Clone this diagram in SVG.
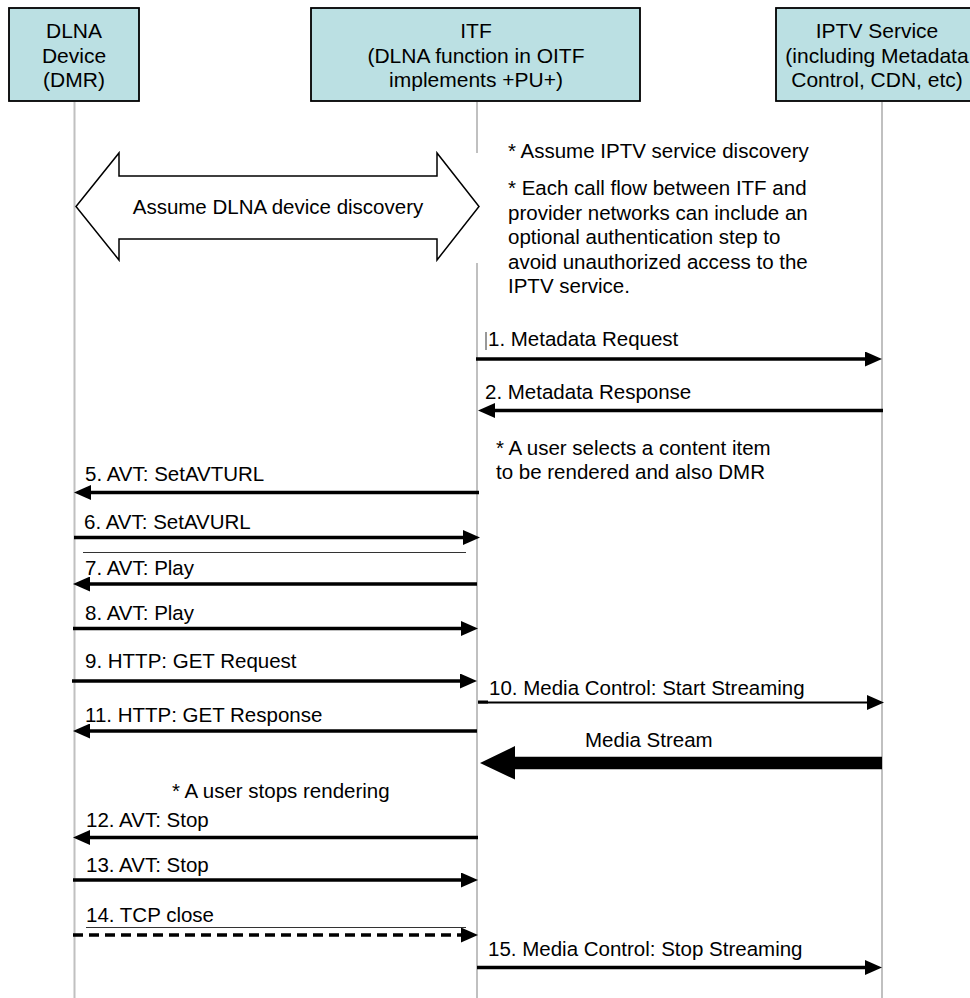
<svg xmlns="http://www.w3.org/2000/svg" width="970" height="998" viewBox="0 0 970 998">
<defs>
<style>
 .t{font-family:"Liberation Sans",Arial,sans-serif;font-size:20.5px;fill:#000}
 .h{font-family:"Liberation Sans",Arial,sans-serif;font-size:21px;fill:#000;text-anchor:middle}
 .box{fill:#BBE0E3;stroke:#000;stroke-width:1.8}
 .life{stroke:#C0C0C0;stroke-width:2;fill:none}
 .msg{stroke:#000;stroke-width:3.5;fill:none;marker-end:url(#ah)}
 .thin{stroke:#000;stroke-width:2;fill:none;marker-end:url(#ah)}
 .dash{stroke-dasharray:10 6}
 .sep{stroke:#333;stroke-width:1;fill:none}
</style>
<marker id="ah" markerUnits="userSpaceOnUse" markerWidth="17" markerHeight="15" refX="9" refY="7.5" orient="auto" viewBox="0 0 17 15"><path d="M0,0 L17,7.5 L0,15 z" fill="#000"/></marker>
</defs>
<rect width="970" height="998" fill="#fff"/>

<g id="lifelines">
 <line class="life" x1="74.5" y1="102" x2="74.5" y2="998"/>
 <line class="life" x1="477" y1="102" x2="477" y2="153"/>
 <line class="life" x1="477" y1="263" x2="477" y2="998"/>
 <line class="life" x1="882" y1="102" x2="882" y2="998"/>
</g>

<g id="dlna">
 <rect class="box" x="9" y="8" width="130" height="93"/>
 <text class="h" x="74" y="38">DLNA</text>
 <text class="h" x="74" y="62.5">Device</text>
 <text class="h" x="74" y="87">(DMR)</text>
</g>
<g id="itf">
 <rect class="box" x="311" y="8" width="329" height="93"/>
 <text class="h" x="476" y="38">ITF</text>
 <text class="h" x="476" y="62.5">(DLNA function in OITF</text>
 <text class="h" x="476" y="87">implements +PU+)</text>
</g>
<g id="iptv">
 <rect class="box" x="776" y="8" width="210" height="93"/>
 <text class="h" x="877" y="38">IPTV Service</text>
 <text class="h" x="877" y="62.5">(including Metadata</text>
 <text class="h" x="877" y="87">Control, CDN, etc)</text>
</g>

<g id="discovery">
 <polygon points="76,206.5 119,153 119,176 437,176 437,153 479,206.5 437,260 437,239 119,239 119,260" fill="#fff" stroke="#000" stroke-width="1.5"/>
 <text class="t" x="278" y="214" text-anchor="middle">Assume DLNA device discovery</text>
</g>

<g id="notes">
 <text class="t" x="508" y="158">* Assume IPTV service discovery</text>
 <text class="t" x="508" y="195">* Each call flow between ITF and</text>
 <text class="t" x="508" y="219.5">provider networks can include an</text>
 <text class="t" x="508" y="244">optional authentication step to</text>
 <text class="t" x="508" y="268.5">avoid unauthorized access to the</text>
 <text class="t" x="508" y="293">IPTV service.</text>
 <text class="t" x="496" y="454.5">* A user selects a content item</text>
 <text class="t" x="496" y="479">to be rendered and also DMR</text>
 <text class="t" x="172" y="797.5">* A user stops rendering</text>
</g>

<g id="connectors">
 <line class="sep" x1="486" y1="332" x2="486" y2="350"/>
 <line class="msg" x1="476" y1="359" x2="874" y2="359"/>
 <text class="t" x="488" y="346">1. Metadata Request</text>

 <line class="msg" x1="883" y1="410.5" x2="486" y2="410.5"/>
 <text class="t" x="485" y="398.5">2. Metadata Response</text>

 <line class="msg" x1="479" y1="492.5" x2="82" y2="492.5"/>
 <text class="t" x="85" y="481">5. AVT: SetAVTURL</text>

 <line class="msg" x1="74" y1="537.5" x2="472" y2="537.5"/>
 <text class="t" x="84" y="528.5">6. AVT: SetAVURL</text>
 <line class="sep" x1="83" y1="552.5" x2="466" y2="552.5"/>

 <line class="msg" x1="477" y1="584" x2="81" y2="584"/>
 <text class="t" x="85" y="575">7. AVT: Play</text>

 <line class="msg" x1="73" y1="628.5" x2="470" y2="628.5"/>
 <text class="t" x="85" y="619.5">8. AVT: Play</text>

 <line class="msg" x1="72" y1="681" x2="469" y2="681"/>
 <text class="t" x="85" y="668">9. HTTP: GET Request</text>

 <line x1="478" y1="702" x2="488" y2="702" stroke="#000" stroke-width="3"/>
 <line class="thin" x1="478" y1="702.5" x2="876" y2="702.5"/>
 <text class="t" x="489" y="695">10. Media Control: Start Streaming</text>

 <line class="msg" x1="477" y1="731" x2="81" y2="731"/>
 <text class="t" x="85" y="721.5">11. HTTP: GET Response</text>

 <polygon points="882,756.7 515,756.7 515,746 480,763 515,779.5 515,769.3 882,769.3" fill="#000"/>
 <text class="t" x="585" y="746.5">Media Stream</text>

 <line class="msg" x1="478" y1="837.5" x2="81" y2="837.5"/>
 <text class="t" x="86" y="827">12. AVT: Stop</text>

 <line class="msg" x1="73" y1="880" x2="470" y2="880"/>
 <text class="t" x="86" y="871.5">13. AVT: Stop</text>

 <text class="t" x="86" y="921.5">14. TCP close</text>
 <line class="sep" x1="86" y1="927.5" x2="466" y2="927.5"/>
 <line class="msg dash" x1="73" y1="935" x2="470" y2="935"/>

 <line class="msg" x1="477" y1="967.5" x2="874" y2="967.5"/>
 <text class="t" x="488" y="956">15. Media Control: Stop Streaming</text>
</g>
</svg>
